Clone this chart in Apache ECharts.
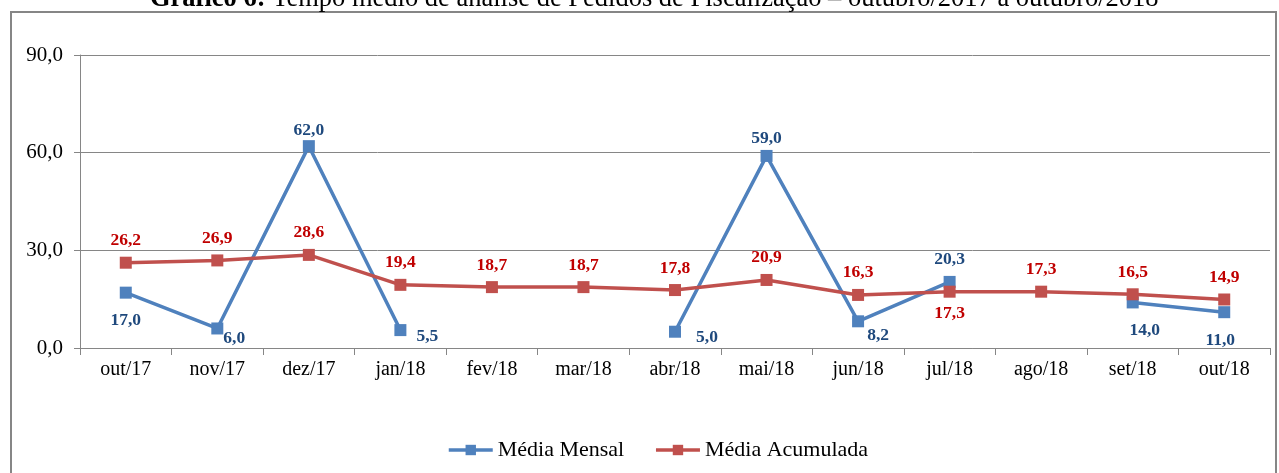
<!DOCTYPE html>
<html>
<head>
<meta charset="utf-8">
<script src="https://cdn.jsdelivr.net/npm/echarts@6/dist/echarts.min.js"></script>
<style>
  html, body { margin: 0; padding: 0; background: #fff; }
  #chart { width: 1279px; height: 473px; }
</style>
</head>
<body>
<div id="chart"></div>
<script>
// months on the x axis
const months = ['out/17', 'nov/17', 'dez/17', 'jan/18', 'fev/18', 'mar/18', 'abr/18',
  'mai/18', 'jun/18', 'jul/18', 'ago/18', 'set/18', 'out/18'];
// monthly average (gaps where there was no data)
const mediaMensal = [17.0, 6.0, 62.0, 5.5, null, null, 5.0, 59.0, 8.2, 20.3, null, 14.0, 11.0];
// running average
const mediaAcumulada = [26.2, 26.9, 28.6, 19.4, 18.7, 18.7, 17.8, 20.9, 16.3, 17.3, 17.3, 16.5, 14.9];

// where each label sits (pixel offsets from the point)
const mensalLabelPos = [[0, 28], [17, 10], [0, -16], [27, 6], null, null, [32, 6], [0, -17],
  [20, 14], [0, -22], null, [12, 28], [-4, 28]];
const acumLabelPos = [[0, -22], [0, -22], [0, -22], [0, -22], [0, -22], [0, -22], [0, -22],
  [0, -22], [0, -22], [0, 22], [0, -22], [0, -22], [0, -22]];

const fmt = v => v.toFixed(1).replace('.', ',');

function build(values, pos) {
  return values.map((v, i) => {
    if (v === null) return null;
    return {
      value: v,
      label: { position: 'inside', offset: pos[i] }
    };
  });
}

const chart = echarts.init(document.getElementById('chart'));
const serif = '"Liberation Serif", "Times New Roman", serif';

chart.setOption({
  animation: false,
  textStyle: { fontFamily: serif },
  title: {
    text: '{b|Gráfico 6:} Tempo médio de análise de Pedidos de Fiscalização – outubro/2017 a outubro/2018',
    left: 145,
    top: -19,
    textStyle: {
      fontFamily: serif, fontSize: 26.5, fontWeight: 'normal', color: '#000',
      rich: { b: { fontFamily: serif, fontSize: 26.5, fontWeight: 'bold', color: '#000' } }
    }
  },
  graphic: [{
    type: 'rect',
    shape: { x: 11, y: 12, width: 1265, height: 480 },
    style: { fill: 'none', stroke: '#868686', lineWidth: 2 },
    silent: true
  }],
  grid: { left: 80, right: 9, top: 55, bottom: 125 },
  legend: {
    bottom: 7,
    left: 442,
    itemGap: 30,
    itemWidth: 44,
    itemHeight: 13,
    lineStyle: { width: 3.5 },
    textStyle: { fontFamily: serif, fontSize: 22, color: '#000' },
    data: ['Média Mensal', 'Média Acumulada']
  },
  xAxis: {
    type: 'category',
    data: months,
    boundaryGap: true,
    axisLine: { lineStyle: { color: '#868686', width: 1 } },
    axisTick: { show: true, length: 7, lineStyle: { color: '#868686' } },
    axisLabel: { color: '#000', fontSize: 20, fontFamily: serif, margin: 12 }
  },
  yAxis: {
    type: 'value',
    min: 0,
    max: 90,
    interval: 30,
    axisLine: { show: true, lineStyle: { color: '#868686', width: 1 } },
    axisTick: { show: true, length: 6, inside: false, lineStyle: { color: '#868686' } },
    axisLabel: { color: '#000', fontSize: 21, fontFamily: serif, margin: 17, formatter: fmt },
    splitLine: { lineStyle: { color: '#868686', width: 1 } }
  },
  series: [
    {
      name: 'Média Mensal',
      type: 'line',
      data: build(mediaMensal, mensalLabelPos),
      connectNulls: false,
      symbol: 'rect',
      symbolSize: 12,
      itemStyle: { color: '#4f81bd' },
      lineStyle: { color: '#4f81bd', width: 3.5 },
      label: {
        show: true,
        formatter: p => fmt(p.value),
        color: '#1f497d',
        fontFamily: serif,
        fontSize: 17.5,
        fontWeight: 'bold'
      },
      z: 2
    },
    {
      name: 'Média Acumulada',
      type: 'line',
      data: build(mediaAcumulada, acumLabelPos),
      symbol: 'rect',
      symbolSize: 12,
      itemStyle: { color: '#c0504d' },
      lineStyle: { color: '#c0504d', width: 3.5 },
      label: {
        show: true,
        formatter: p => fmt(p.value),
        color: '#c00000',
        fontFamily: serif,
        fontSize: 17.5,
        fontWeight: 'bold'
      },
      z: 3
    }
  ]
});
</script>
</body>
</html>
